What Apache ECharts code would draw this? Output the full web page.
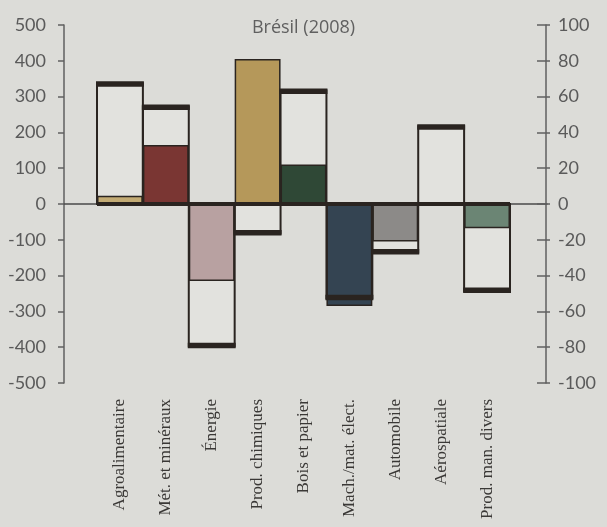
<!DOCTYPE html>
<html>
<head>
<meta charset="utf-8">
<script src="https://cdn.jsdelivr.net/npm/echarts@6/dist/echarts.min.js"></script>
<style>
html,body{margin:0;padding:0;background:#dcdcd8;}
#chart{width:607px;height:527px;}
</style>
</head>
<body>
<div id="chart"></div>
<script>
// ---- data ----
const categories = ['Agroalimentaire','Mét. et minéraux','Énergie','Prod. chimiques','Bois et papier','Mach./mat. élect.','Automobile','Aérospatiale','Prod. man. divers'];
// outlined bars (left axis)
const balanceValues = [340, 275, -400, -85, 320, -266, -138, 220, -246];
// coloured bars (right axis)
const shareValues = [4.6, 33, -43, 81, 22, -57, -21, 0, -13.6];
const shareColors = ['#c3ab74','#7a3633','#b8a1a1','#b5985a','#2f4836','#344452','#8c8a88','#8c8a88','#6b8574'];
const leftTicks = {min: -500, max: 500, interval: 100};
const rightTicks = {min: -100, max: 100, interval: 20};

const INK = '#2a2420';
const FILL = '#e2e2de';
const AXIS = '#606060';
const LABEL = '#5a5a5a';

function outlineRender(fillOnly) {
  return function (params, api) {
    const x = api.value(0), v = api.value(1);
    const base = api.coord([x, 0]);
    const end = api.coord([x, v]);
    const w = api.size([1, 0])[0];
    const left = base[0] - w / 2;
    const y0 = Math.min(base[1], end[1]);
    const h = Math.abs(base[1] - end[1]);
    if (fillOnly) {
      return {type: 'rect', shape: {x: left, y: y0, width: w, height: h}, style: {fill: FILL, stroke: null}};
    }
    const cap = 4.5;
    const capY = v >= 0 ? end[1] : end[1] - cap;
    return {
      type: 'group',
      children: [
        {type: 'rect', shape: {x: left, y: y0, width: w, height: h}, style: {fill: 'none', stroke: INK, lineWidth: 2}},
        {type: 'rect', shape: {x: left - 1, y: capY, width: w + 2, height: cap}, style: {fill: INK}}
      ]
    };
  };
}

const chart = echarts.init(document.getElementById('chart'), null, {renderer: 'canvas'});
chart.setOption({
  backgroundColor: '#dcdcd8',
  animation: false,
  title: {
    text: 'Brésil (2008)', left: 'center', top: 14,
    textStyle: {fontFamily: 'Open Sans', fontSize: 18, fontWeight: 'normal', color: '#606060'}
  },
  grid: [
    {left: 97, right: 97, top: 25, bottom: 144, containLabel: false},
    {left: 64, right: 60, top: 25, bottom: 144, containLabel: false}
  ],
  xAxis: [
    {
      type: 'category', gridIndex: 0, data: categories, position: 'bottom',
      axisLine: {show: false, onZero: false}, axisTick: {show: false},
      axisLabel: {rotate: 90, interval: 0, margin: 16, fontFamily: 'Liberation Serif', fontSize: 17, color: '#3a3836', padding: [0, 0, 8, 0]},
      splitLine: {show: false}
    },
    {
      type: 'value', gridIndex: 1, min: 0, max: 1, position: 'bottom',
      axisLine: {show: true, onZero: true, lineStyle: {color: '#4a4a4a', width: 1.5}},
      axisTick: {show: false}, axisLabel: {show: false}, splitLine: {show: false}
    }
  ],
  yAxis: [
    {
      type: 'value', gridIndex: 0, position: 'left', offset: 33,
      min: leftTicks.min, max: leftTicks.max, interval: leftTicks.interval,
      axisLine: {show: true, lineStyle: {color: AXIS, width: 1.5}},
      axisTick: {show: true, length: 6, lineStyle: {color: AXIS, width: 1.5}},
      axisLabel: {margin: 18, fontFamily: 'Lato', fontSize: 18, color: LABEL},
      splitLine: {show: false}
    },
    {
      type: 'value', gridIndex: 0, position: 'right', offset: 36,
      min: rightTicks.min, max: rightTicks.max, interval: rightTicks.interval,
      axisLine: {show: true, lineStyle: {color: AXIS, width: 1.5}},
      axisTick: {show: true, length: 4, lineStyle: {color: AXIS, width: 1.5}},
      axisLabel: {margin: 12, fontFamily: 'Lato', fontSize: 18, color: LABEL},
      splitLine: {show: false}
    },
    {
      type: 'value', gridIndex: 0, position: 'right', offset: 36,
      min: rightTicks.min, max: rightTicks.max, interval: rightTicks.interval,
      axisLine: {show: false},
      axisTick: {show: true, inside: true, length: 9, lineStyle: {color: AXIS, width: 1.5}},
      axisLabel: {show: false}, splitLine: {show: false}
    },
    {
      type: 'value', gridIndex: 1, min: leftTicks.min, max: leftTicks.max, show: false
    }
  ],
  series: [
    {
      type: 'custom', name: 'fill', xAxisIndex: 0, yAxisIndex: 0, z: 1, silent: true,
      renderItem: outlineRender(true),
      data: balanceValues.map((v, i) => [i, v])
    },
    {
      type: 'bar', name: 'part', xAxisIndex: 0, yAxisIndex: 1, z: 2, barWidth: '100%', silent: true,
      data: shareValues.map((v, i) => ({value: v, itemStyle: {color: shareColors[i], borderColor: INK, borderWidth: v === 0 ? 0 : 1.5}}))
    },
    {
      type: 'custom', name: 'outline', xAxisIndex: 0, yAxisIndex: 0, z: 3, silent: true,
      renderItem: outlineRender(false),
      data: balanceValues.map((v, i) => [i, v]),
      markLine: {
        silent: true, symbol: ['none', 'none'], label: {show: false},
        lineStyle: {color: INK, width: 4, type: 'solid'},
        data: [{yAxis: 0}]
      }
    }
  ]
});
</script>
</body>
</html>
